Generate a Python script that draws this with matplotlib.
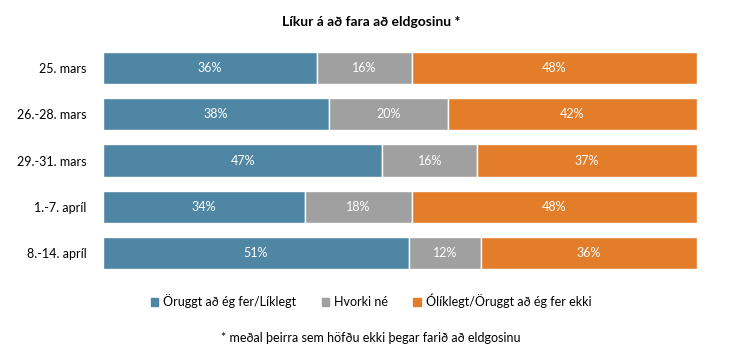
import numpy as np
import matplotlib.pyplot as plt
from matplotlib.patches import Patch

plt.rcParams['font.family'] = ['Lato', 'DejaVu Sans']

# data
categories = ['25. mars', '26.-28. mars', '29.-31. mars', '1.-7. apríl', '8.-14. apríl']
likely = [36, 38, 47, 34, 51]
neither = [16, 20, 16, 18, 12]
unlikely = [48, 42, 37, 48, 36]
series_names = ['Öruggt að ég fer/Líklegt', 'Hvorki né', 'Ólíklegt/Öruggt að ég fer ekki']
colors = ['#4E86A3', '#A0A0A0', '#E37D29']

fig = plt.figure(figsize=(7.42, 3.53), dpi=100)
ax = fig.add_axes([0.1388, 0.2181, 0.8006, 0.6544])

y = np.arange(len(categories))
data = np.array([likely, neither, unlikely], dtype=float)
totals = data.sum(axis=0)  # 100% stacked: each row fills the width
left = np.zeros(len(categories))
for vals, col in zip(data, colors):
    widths = vals / totals * 100
    ax.barh(y, widths, left=left, height=0.7, color=col, edgecolor='white', linewidth=1)
    for yi, l, w, v in zip(y, left, widths, vals):
        ax.text(l + w / 2, yi, f'{int(v)}%', ha='center', va='center', color='white', fontsize=9)
    left += widths

ax.set_xlim(0, 100)
ax.set_ylim(4.5, -0.5)
ax.set_yticks(y)
ax.set_yticklabels(categories, fontsize=9)
ax.tick_params(axis='y', length=0, pad=12)
ax.set_xticks([])
for s in ax.spines.values():
    s.set_visible(False)

fig.text(0.5, 0.938, 'Líkur á að fara að eldgosinu *', ha='center', va='center',
         fontsize=10, fontweight='bold')

handles = [Patch(color=c, label=n) for c, n in zip(colors, series_names)]
fig.legend(handles=handles, loc='center', bbox_to_anchor=(0.5, 0.147), ncol=3,
           frameon=False, fontsize=9, handlelength=0.6, handleheight=0.6,
           handletextpad=0.4, columnspacing=2.0)

fig.text(0.5, 0.042, '* meðal þeirra sem höfðu ekki þegar farið að eldgosinu',
         ha='center', va='center', fontsize=9)

fig.savefig('out.png', dpi=100)
